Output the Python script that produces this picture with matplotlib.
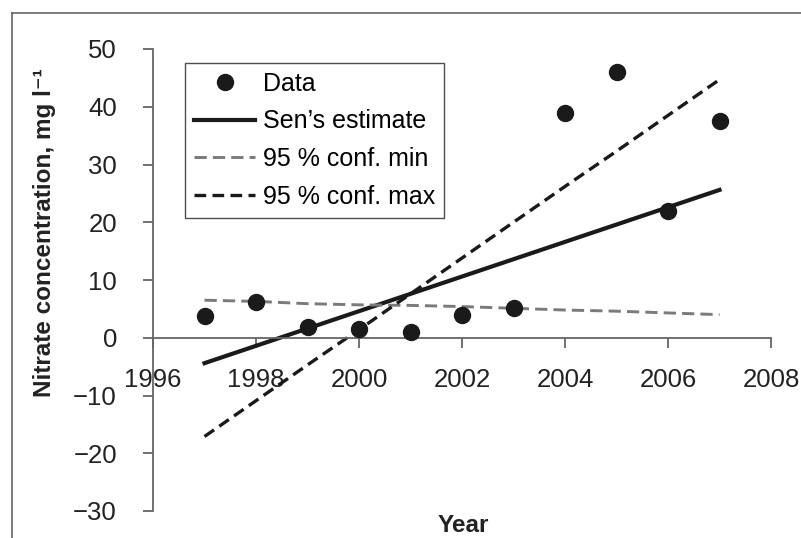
import numpy as np
import matplotlib
matplotlib.use('Agg')
import matplotlib.pyplot as plt
from matplotlib.lines import Line2D

plt.rcParams['font.family'] = ['Liberation Sans', 'DejaVu Sans']

# values
years = [1997, 1998, 1999, 2000, 2001, 2002, 2003, 2004, 2005, 2006, 2007]
nitrate = [3.8, 6.2, 1.8, 1.6, 1.0, 4.0, 5.1, 38.9, 46.0, 22.0, 37.6]
sen_est = [-4.4, -1.4, 1.6, 4.6, 7.6, 10.6, 13.6, 16.6, 19.6, 22.6, 25.6]
conf_min = [6.5, 6.3, 5.9, 5.7, 5.6, 5.4, 5.1, 4.8, 4.6, 4.3, 4.0]
conf_max = [-17.1, -10.9, -4.7, 1.4, 7.6, 13.8, 20.0, 26.2, 32.3, 38.5, 44.7]

xticks = [1996, 1998, 2000, 2002, 2004, 2006, 2008]
yticks = [-30, -20, -10, 0, 10, 20, 30, 40, 50]

fig = plt.figure(figsize=(8.01, 5.38), dpi=100)
ax = fig.add_axes([153/801, 1-511/538, 618/801, 462/538])

ax.plot(years, nitrate, 'o', color='#1a1a1a', markersize=11.5, label='Data', zorder=4)
ax.plot(years, sen_est, '-', color='#1a1a1a', lw=3.0, label='Sen\u2019s estimate')
ax.plot(years, conf_min, '--', color='#7a7a7a', lw=2.1, dashes=(4.2, 2.1), label='95 % conf. min')
ax.plot(years, conf_max, '--', color='#1a1a1a', lw=2.4, dashes=(3.5, 1.9), label='95 % conf. max')

ax.set_xlim(1996, 2008)
ax.set_ylim(-30, 50)
ax.set_xticks(xticks)
ax.set_yticks(yticks)

for s in ['top', 'right']:
    ax.spines[s].set_visible(False)
ax.spines['bottom'].set_position(('data', 0))
for s in ['left', 'bottom']:
    ax.spines[s].set_color('#666666')
    ax.spines[s].set_linewidth(1.3)

ax.tick_params(axis='both', direction='out', length=7, width=1.3, color='#666666',
               labelsize=18.5, labelcolor='#222222')
ax.tick_params(axis='x', pad=15)
ax.tick_params(axis='y', pad=19)

leg = ax.legend(loc='upper left', bbox_to_anchor=(0.052, 0.97), fontsize=18,
                frameon=True, fancybox=False, handlelength=2.45, handletextpad=0.32,
                borderpad=0.35, labelspacing=0.55, borderaxespad=0)
leg.get_frame().set_edgecolor('#222222')
leg.get_frame().set_linewidth(1.0)

fig.text(463/801, 1-525/538, 'Year', ha='center', va='center',
         fontsize=17.5, fontweight='bold', color='#222222')
fig.text(45/801, 1-233/538, 'Nitrate concentration, mg l\u207b\u00b9', ha='center', va='center',
         rotation=90, fontsize=17.5, fontweight='bold', color='#222222')

# outer frame lines (top and left)
fig.add_artist(Line2D([12/801, 1], [1-13/538, 1-13/538], color='#666666', lw=1.2))
fig.add_artist(Line2D([12/801, 12/801], [0, 1-13/538], color='#666666', lw=1.2))

fig.savefig('out.png', dpi=100)
